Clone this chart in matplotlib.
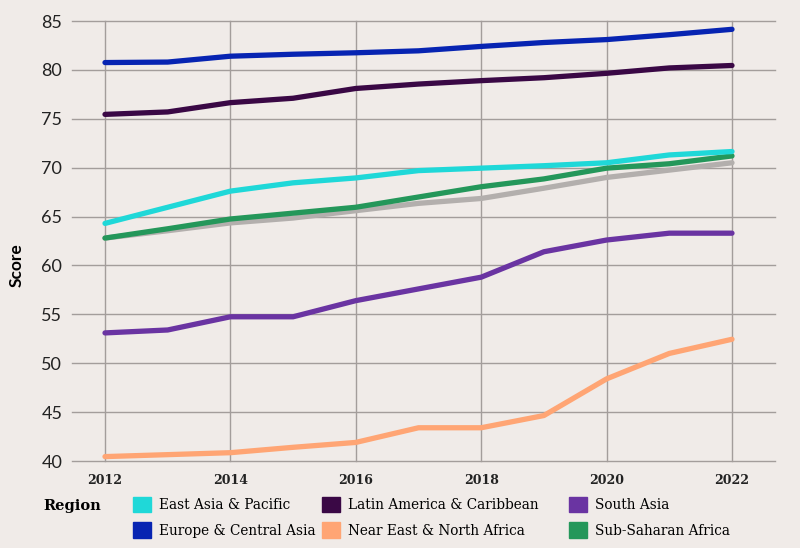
import matplotlib
matplotlib.use("Agg")
import matplotlib.pyplot as plt
from matplotlib.patches import Patch

years = [2012, 2013, 2014, 2015, 2016, 2017, 2018, 2019, 2020, 2021, 2022]

east_asia = [64.3, 65.95, 67.6, 68.45, 68.95, 69.7, 69.95, 70.2, 70.5, 71.3, 71.65]
europe = [80.75, 80.8, 81.4, 81.6, 81.75, 81.95, 82.4, 82.8, 83.1, 83.6, 84.15]
latin = [75.45, 75.7, 76.65, 77.1, 78.1, 78.55, 78.9, 79.2, 79.65, 80.2, 80.45]
near_east = [40.45, 40.65, 40.85, 41.4, 41.9, 43.4, 43.4, 44.65, 48.4, 51.0, 52.45]
south_asia = [53.1, 53.4, 54.75, 54.75, 56.4, 57.6, 58.8, 61.4, 62.6, 63.3, 63.3]
sub_saharan = [62.8, 63.75, 64.75, 65.35, 65.95, 67.0, 68.05, 68.85, 69.95, 70.4, 71.2]
overall = [62.8, 63.55, 64.35, 64.85, 65.6, 66.35, 66.85, 67.9, 69.0, 69.75, 70.5]

labels = ["East Asia & Pacific", "Europe & Central Asia", "Latin America & Caribbean",
          "Near East & North Africa", "South Asia", "Sub-Saharan Africa"]
colors = ["#1fd8d8", "#0724b2", "#3a0845", "#ffa574", "#6a34a2", "#24975a"]
gray_color = "#b3afad"

bg = "#f0ebe8"
plt.rcParams['font.family'] = ['DejaVu Serif']

fig = plt.figure(figsize=(8, 5.48), dpi=100, facecolor=bg)
ax = fig.add_axes([72/800, 1-461/548, (775-72)/800, (461-21)/548], facecolor=bg)

ax.set_xlim(2012 - 33/62.7, 2022 + 43/62.7)
ax.set_ylim(40, 85)

for s in ax.spines.values():
    s.set_visible(False)

ax.set_xticks([2012, 2014, 2016, 2018, 2020, 2022])
ax.set_yticks([40, 45, 50, 55, 60, 65, 70, 75, 80, 85])
ax.grid(True, color="#a39d9b", lw=1)
for gl in ax.get_xgridlines() + ax.get_ygridlines():
    gl.set_clip_on(False)
ax.set_axisbelow(True)
ax.tick_params(length=0)
ax.tick_params(axis='y', labelsize=13, pad=7, colors="#222222")
ax.tick_params(axis='x', labelsize=9, pad=9, colors="#222222")
for t in ax.get_yticklabels():
    t.set_fontfamily('Lato')
for t in ax.get_xticklabels():
    t.set_fontweight('bold')
ax.set_ylabel("Score", fontsize=12.5, fontweight='bold', family='Lato')
ax.yaxis.set_label_coords((25-72)/703, (461-265)/440)

lw = 3.8
ax.plot(years, overall, color=gray_color, lw=lw, solid_capstyle='round', solid_joinstyle='round', zorder=2)
series = [east_asia, europe, latin, near_east, south_asia, sub_saharan]
order = [3, 4, 5, 0, 2, 1]
for i in order:
    ax.plot(years, series[i], color=colors[i], lw=lw, solid_capstyle='round',
            solid_joinstyle='round', zorder=3)

# legend: three columns of two entries each
col_x = [133, 322, 569]
for c in range(3):
    hs = [Patch(facecolor=colors[2*c + r], edgecolor=colors[2*c + r]) for r in range(2)]
    ls = [labels[2*c + r] for r in range(2)]
    fig.legend(hs, ls, loc='upper left', bbox_to_anchor=(col_x[c]/800, 1-497/548),
               frameon=False, fontsize=9.8, handlelength=1.35, handleheight=1.35,
               handletextpad=0.55, labelspacing=0.75, borderaxespad=0, borderpad=0)
fig.text(43/800, 1-506/548, "Region", fontsize=10.5, fontweight='bold', va='center', ha='left')

fig.savefig("out.png", dpi=100, facecolor=bg)
